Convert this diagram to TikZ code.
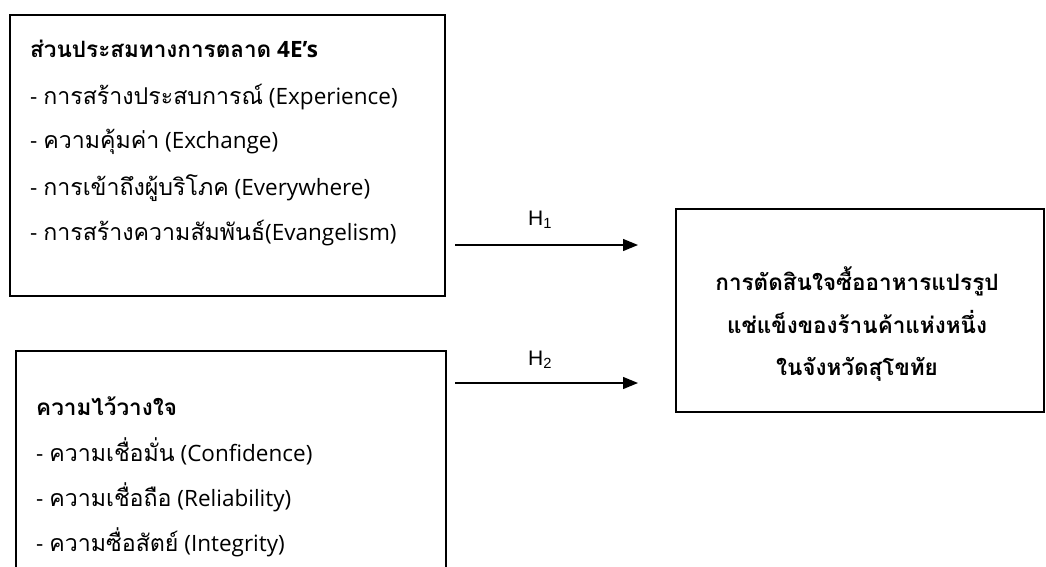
\documentclass[tikz,border=0pt]{standalone}
\usepackage{fontspec}
\setmainfont{Open Sans}
\newfontfamily\thai[Script=Thai, Scale=1.03]{Loma}
\newfontfamily\thaibf[Script=Thai]{Loma}
\newfontfamily\hfont{Liberation Sans}
\usetikzlibrary{arrows.meta}

\tikzset{
  frame/.style={draw=black, line width=2pt, fill=none, inner sep=0pt},
  item/.style={anchor=base west, inner sep=0pt, font=\fontsize{22.5}{26}\selectfont},
  heading/.style={item, font=\bfseries\fontsize{22.5}{26}\selectfont},
  result/.style={anchor=base, inner sep=0pt, font=\thaibf\bfseries\fontsize{22.5}{26}\selectfont},
  link/.style={line width=1.3pt, -{Triangle[length=15pt, width=12pt]}},
  hyp/.style={anchor=base, inner sep=0pt, font=\hfont\fontsize{21}{24}\selectfont}
}

\begin{document}
\begin{tikzpicture}[x=1pt, y=-1pt]
\useasboundingbox (0,0) rectangle (1046,567);
\clip (0,0) rectangle (1046,567);

% marketing mix box
\node[frame, anchor=north west, minimum width=435pt, minimum height=281pt] (mix) at (9,14) {};
\node[heading] (mixT) at (30,58) {{\thaibf ส่วนประสมทางการตลาด} 4E’s};
\node[item] (m1) at (30,105) {- {\thai การสร้างประสบการณ์} (Experience)};
\node[item] (m2) at (30,149) {- {\thai ความคุ้มค่า} (Exchange)};
\node[item] (m3) at (30,195) {- {\thai การเข้าถึงผู้บริโภค} (Everywhere)};
\node[item] (m4) at (30,240) {- {\thai การสร้างความสัมพันธ์}(Evangelism)};

% trust box (runs past the lower edge)
\node[frame, anchor=north west, minimum width=430pt, minimum height=260pt] (trust) at (15,350) {};
\node[heading] (trustT) at (36,415) {{\thaibf ความไว้วางใจ}};
\node[item] (t1) at (36,461) {- {\thai ความเชื่อมั่น} (Confidence)};
\node[item] (t2) at (36,506) {- {\thai ความเชื่อถือ} (Reliability)};
\node[item] (t3) at (36,551) {- {\thai ความซื่อสัตย์} (Integrity)};

% purchase decision box
\node[frame, anchor=north west, minimum width=368pt, minimum height=203pt] (dec) at (675,208) {};
\node[result] (d1) at (857,290) {การตัดสินใจซื้ออาหารแปรรูป};
\node[result] (d2) at (857,333) {แช่แข็งของร้านค้าแห่งหนึ่ง};
\node[result] (d3) at (857,375) {ในจังหวัดสุโขทัย};

% hypotheses
\coordinate (a1s) at (455,245);
\coordinate (a1e) at (638,245);
\coordinate (a2s) at (455,383);
\coordinate (a2e) at (638,383);
\draw[link] (a1s) -- (a1e);
\draw[link] (a2s) -- (a2e);
\node[hyp] (h1) at (540,225) {H\textsubscript{1}};
\node[hyp] (h2) at (540,365) {H\textsubscript{2}};
\end{tikzpicture}
\end{document}
